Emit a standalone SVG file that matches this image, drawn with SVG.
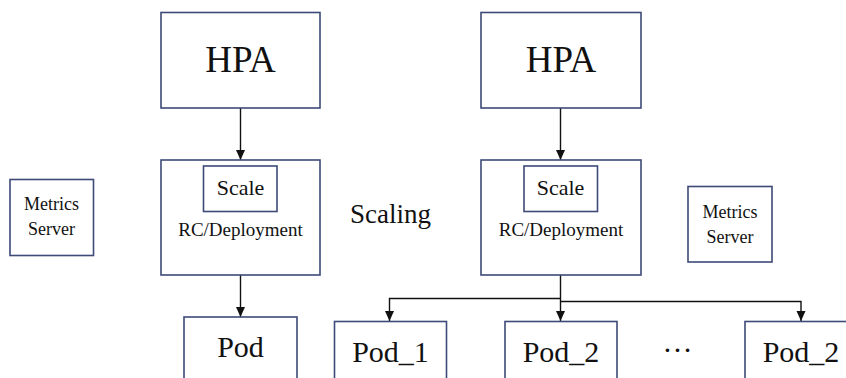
<svg xmlns="http://www.w3.org/2000/svg" width="846" height="378" viewBox="0 0 846 378">
  <style>
    .box { fill: #ffffff; stroke: #3e4a78; stroke-width: 1.6; }
    .t { fill: #111111; text-anchor: middle; }
    .wire { fill: none; stroke: #111111; stroke-width: 1.4; }
  </style>
  <defs>
    <marker id="arrow" markerUnits="userSpaceOnUse" markerWidth="10" markerHeight="10" refX="10" refY="4.5" orient="auto">
      <path d="M0,0 L10,4.5 L0,9 z" fill="#111111"/>
    </marker>
  </defs>
  <rect width="846" height="378" fill="#ffffff"/>

  <!-- connectors -->
  <g id="connectors">
    <line class="wire" x1="240.5" y1="108" x2="240.5" y2="160" marker-end="url(#arrow)"/>
    <line class="wire" x1="560.5" y1="108" x2="560.5" y2="160" marker-end="url(#arrow)"/>
    <line class="wire" x1="240.5" y1="275" x2="240.5" y2="317" marker-end="url(#arrow)"/>
    <line class="wire" x1="560.5" y1="275" x2="560.5" y2="321" marker-end="url(#arrow)"/>
    <path class="wire" d="M560.5,298.5 H389.5 V321" marker-end="url(#arrow)"/>
    <path class="wire" d="M560.5,301.5 H801 V321" marker-end="url(#arrow)"/>
  </g>

  <g font-family="'Liberation Serif', 'DejaVu Serif', 'Times New Roman', Times, serif">
    <!-- left side: before scaling -->
    <g id="hpa-left">
      <rect class="box" x="161" y="12.5" width="159" height="95.5"/>
      <text class="t" x="240.5" y="71.5" font-size="37">HPA</text>
    </g>
    <g id="rc-left">
      <rect class="box" x="161" y="160" width="159" height="115"/>
      <rect class="box" x="203.5" y="166" width="73.5" height="45.5"/>
      <text class="t" x="240.5" y="195" font-size="22">Scale</text>
      <text class="t" x="240.5" y="236" font-size="19">RC/Deployment</text>
    </g>
    <g id="metrics-left">
      <rect class="box" x="10" y="179.5" width="83.5" height="76"/>
      <text class="t" x="51.5" y="210" font-size="18">Metrics</text>
      <text class="t" x="51.5" y="235" font-size="18">Server</text>
    </g>
    <g id="pod">
      <rect class="box" x="184" y="317" width="113" height="80"/>
      <text class="t" x="240.5" y="357" font-size="30">Pod</text>
    </g>

    <text id="scaling" x="350" y="223" font-size="27" fill="#111111">Scaling</text>

    <!-- right side: after scaling -->
    <g id="hpa-right">
      <rect class="box" x="481" y="12.5" width="160" height="95.5"/>
      <text class="t" x="561" y="71.5" font-size="37">HPA</text>
    </g>
    <g id="rc-right">
      <rect class="box" x="481" y="160" width="160" height="115"/>
      <rect class="box" x="524" y="166" width="73.5" height="45.5"/>
      <text class="t" x="560.5" y="195" font-size="22">Scale</text>
      <text class="t" x="561" y="236" font-size="19">RC/Deployment</text>
    </g>
    <g id="metrics-right">
      <rect class="box" x="688" y="186.5" width="84" height="75.5"/>
      <text class="t" x="730" y="218" font-size="18">Metrics</text>
      <text class="t" x="730" y="243" font-size="18">Server</text>
    </g>
    <g id="pod-1">
      <rect class="box" x="334.5" y="321.5" width="112" height="80"/>
      <text class="t" x="390.5" y="361.5" font-size="30">Pod_1</text>
    </g>
    <g id="pod-2">
      <rect class="box" x="505" y="321.5" width="112" height="80"/>
      <text class="t" x="561" y="361.5" font-size="30">Pod_2</text>
    </g>
    <text id="ellipsis" class="t" x="677.5" y="352" font-size="30">…</text>
    <g id="pod-n">
      <rect class="box" x="745" y="321.5" width="112" height="80"/>
      <text class="t" x="801" y="361.5" font-size="30">Pod_2</text>
    </g>
  </g>
</svg>
